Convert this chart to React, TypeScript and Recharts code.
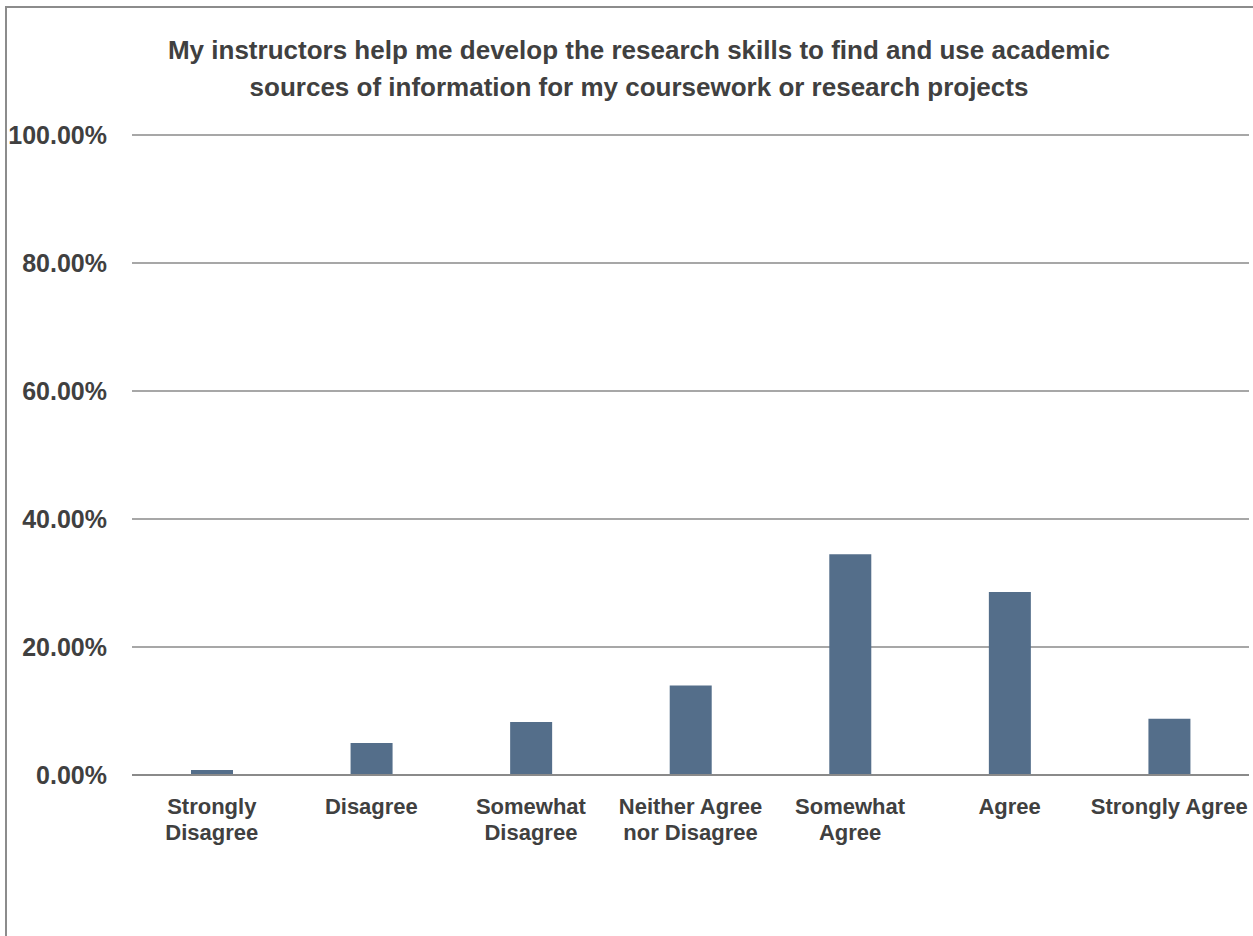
import React from "react";
import { BarChart, Bar, XAxis, YAxis, CartesianGrid } from "recharts";

const categories = [
  "Strongly Disagree",
  "Disagree",
  "Somewhat Disagree",
  "Neither Agree nor Disagree",
  "Somewhat Agree",
  "Agree",
  "Strongly Agree",
];
const percents = [0.8, 5.0, 8.3, 14.0, 34.5, 28.6, 8.8];
const yTicks = [0, 20, 40, 60, 80, 100];
const titleLines = [
  "My instructors help me develop the research skills to find and use academic",
  "sources of information for my coursework or research projects",
];

const data = categories.map((name, i) => ({ name, value: percents[i] }));

const FONT = '"Liberation Sans", Arial, sans-serif';
const TEXT_COLOR = "#404040";
const LABEL_SIZE = 22;
const LABEL_MAX = 162;

let ctx: CanvasRenderingContext2D | null = null;
function measure(s: string) {
  if (!ctx) ctx = document.createElement("canvas").getContext("2d");
  if (!ctx) return s.length * LABEL_SIZE * 0.55;
  ctx.font = `700 ${LABEL_SIZE}px ${FONT}`;
  return ctx.measureText(s).width;
}

// greedy word wrap by pixel width
function wrap(label: string) {
  const words = label.split(" ");
  const lines: string[] = [];
  let cur = "";
  for (const w of words) {
    const next = cur ? cur + " " + w : w;
    if (cur && measure(next) > LABEL_MAX) {
      lines.push(cur);
      cur = w;
    } else {
      cur = next;
    }
  }
  if (cur) lines.push(cur);
  return lines;
}

function CategoryTick(props: any) {
  const { x, y, payload } = props;
  const lines = wrap(String(payload.value));
  return (
    <text
      x={x}
      y={y + 11}
      textAnchor="middle"
      fill={TEXT_COLOR}
      style={{ fontSize: LABEL_SIZE, fontWeight: 700, fontFamily: FONT }}
    >
      {lines.map((l, i) => (
        <tspan key={i} x={x} dy={i === 0 ? "0.9em" : 26}>
          {l}
        </tspan>
      ))}
    </text>
  );
}

export default function App() {
  return (
    <div
      style={{
        position: "absolute",
        left: 0,
        top: 0,
        width: 1253,
        height: 936,
        background: "#fff",
        overflow: "hidden",
        fontFamily: FONT,
      }}
    >
      <div
        style={{
          position: "absolute",
          left: 5,
          top: 6,
          width: 1300,
          height: 1000,
          borderLeft: "2px solid #8c8c8c",
          borderTop: "2px solid #8c8c8c",
        }}
      />
      <div
        style={{
          position: "absolute",
          left: 0,
          top: 32,
          width: 1278,
          textAlign: "center",
          fontSize: 26,
          fontWeight: 700,
          lineHeight: "37px",
          color: TEXT_COLOR,
        }}
      >
        {titleLines.map((l) => (
          <div key={l}>{l}</div>
        ))}
      </div>
      <BarChart
        width={1253}
        height={936}
        data={data}
        margin={{ top: 135, right: 4, left: 0, bottom: 121 }}
        style={{ position: "absolute", left: 0, top: 0 }}
      >
        <CartesianGrid vertical={false} stroke="#8a8a8a" strokeWidth={1.5} />
        <XAxis
          dataKey="name"
          axisLine={{ stroke: "#8a8a8a", strokeWidth: 2 }}
          tickLine={false}
          tick={<CategoryTick />}
          interval={0}
          height={40}
        />
        <YAxis
          width={132}
          domain={[0, 100]}
          ticks={yTicks}
          axisLine={false}
          tickLine={false}
          tickSize={0}
          tickMargin={25}
          tickFormatter={(v: number) => `${v.toFixed(2)}%`}
          tick={{ fill: TEXT_COLOR, fontSize: 25, fontWeight: 700, fontFamily: FONT }}
        />
        <Bar dataKey="value" fill="#546e8a" barSize={42} isAnimationActive={false} />
      </BarChart>
    </div>
  );
}
